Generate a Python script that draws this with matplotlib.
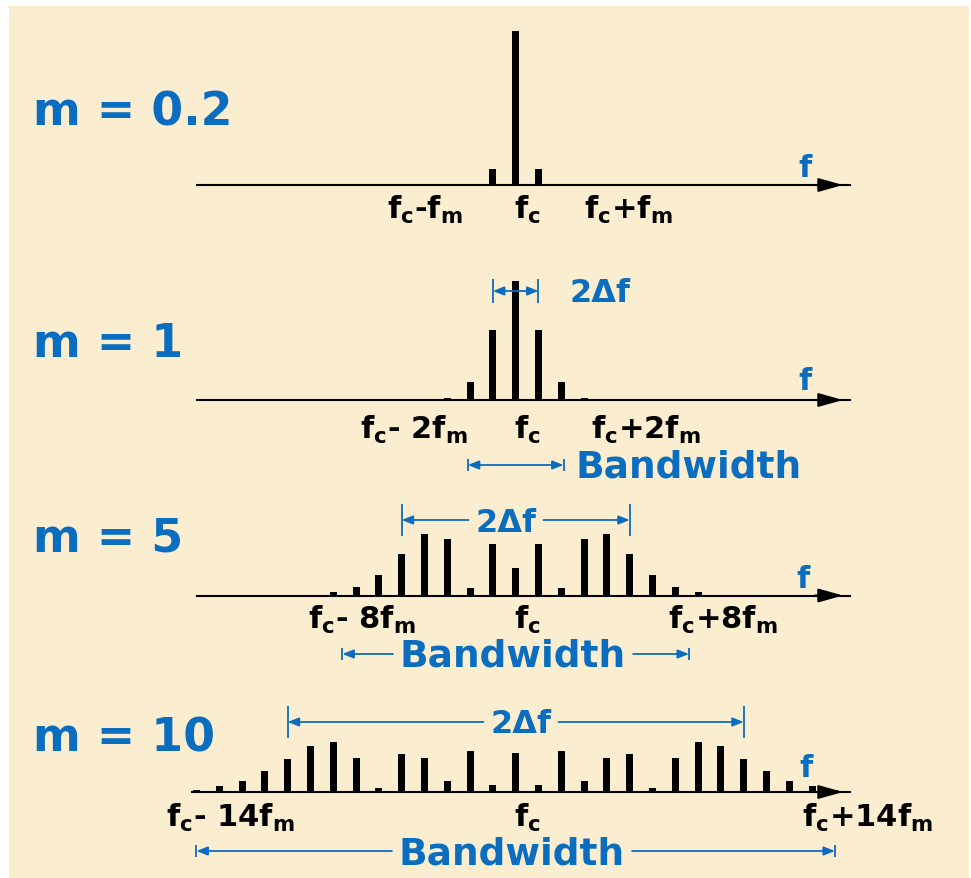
import numpy as np
import matplotlib
matplotlib.use("Agg")
import matplotlib.pyplot as plt
from matplotlib.patches import Rectangle

W, H = 971, 879
CREAM = "#FBEED0"
BLUE = "#0B6DC0"

# modulation index per panel
mod_index = ["0.2", "1", "5", "10"]

# spectral line magnitudes (carrier = 1), sideband -n .. +n
amp_m02 = [0.10, 0.99, 0.10]
amp_m1 = [0.015, 0.115, 0.447, 0.763, 0.447, 0.115, 0.015]
amp_m5 = [0.021, 0.056, 0.133, 0.263, 0.397, 0.363, 0.045, 0.331, 0.178,
          0.331, 0.045, 0.363, 0.397, 0.263, 0.133, 0.056, 0.021]
amp_m10 = [0.015, 0.037, 0.069, 0.133, 0.21, 0.295, 0.32, 0.22, 0.028, 0.242,
           0.22, 0.069, 0.263, 0.043, 0.252, 0.043, 0.263, 0.069, 0.22, 0.242,
           0.028, 0.22, 0.32, 0.295, 0.21, 0.133, 0.069, 0.037, 0.015]
spectra = [amp_m02, amp_m1, amp_m5, amp_m10]

# half-spans (in units of fm) of the 2Δf and bandwidth markers
dev_half = [None, 1, 5, 10]
bw_half = [None, 2.1, 7.6, 14.0]

# frequency labels under each axis
freq_labels = [
    [r"$\mathbf{f_c}$-$\mathbf{f_m}$", r"$\mathbf{f_c}$", r"$\mathbf{f_c}$+$\mathbf{f_m}$"],
    [r"$\mathbf{f_c}$- $\mathbf{2f_m}$", r"$\mathbf{f_c}$", r"$\mathbf{f_c}$+$\mathbf{2f_m}$"],
    [r"$\mathbf{f_c}$- $\mathbf{8f_m}$", r"$\mathbf{f_c}$", r"$\mathbf{f_c}$+$\mathbf{8f_m}$"],
    [r"$\mathbf{f_c}$- $\mathbf{14f_m}$", r"$\mathbf{f_c}$", r"$\mathbf{f_c}$+$\mathbf{14f_m}$"],
]

# layout (pixels)
X0, DX, S = 515.7, 22.8, 156.0
baselines = [186, 401, 596.5, 793]
label_x = [[425, 527, 628], [414, 527, 646], [362, 527, 723], [230, 527, 868]]
label_y = [219, 439, 629, 827]
title_y = [126, 357, 552, 752]
f_pos = [(805, 177), (805, 390), (803, 588), (806, 777)]
axis_start = [197, 197, 197, 192]

ARROW = dict(arrowstyle="-|>,head_length=0.55,head_width=0.22", mutation_scale=12,
             color=BLUE, lw=1.3, shrinkA=0, shrinkB=0)
ARROW2 = dict(ARROW, arrowstyle="<|-|>,head_length=0.55,head_width=0.22")

fig = plt.figure(figsize=(W / 100, H / 100), dpi=100)
fig.patch.set_facecolor("white")
fig.patches.append(Rectangle((9 / W, 0), (969 - 9) / W, 1 - 7 / H,
                             transform=fig.transFigure, facecolor=CREAM,
                             edgecolor="none", zorder=-10))


def fx(x):
    return x / W


def fy(y):
    return 1 - y / H


def panel(base, below=95, above=180):
    ax = fig.add_axes([0, 1 - (base + below) / H, 1, (below + above) / H])
    ax.set_xlim(-X0 / DX, (W - X0) / DX)
    ax.set_ylim(-below / S, above / S)
    ax.axis("off")
    return ax


def kx(px):
    return (px - X0) / DX


def text_span(ax, t, pad=7):
    bb = t.get_window_extent(fig.canvas.get_renderer())
    inv = ax.transData.inverted()
    return inv.transform((bb.x0 - pad, 0))[0], inv.transform((bb.x1 + pad, 0))[0]


def bracket(ax, half, y, tick, text=None):
    ax.vlines([-half, half], y - tick, y + tick, color=BLUE, lw=1.3)
    if text is None:
        ax.annotate("", xy=(half, y), xytext=(-half, y), arrowprops=ARROW2)
    else:
        xl, xr = text_span(ax, text)
        ax.annotate("", xy=(-half, y), xytext=(xl, y), arrowprops=ARROW)
        ax.annotate("", xy=(half, y), xytext=(xr, y), arrowprops=ARROW)


for i, amps in enumerate(spectra):
    base = baselines[i]
    ax = panel(base)
    n = len(amps) // 2
    k = np.arange(-n, n + 1)
    ax.bar(k, amps, width=0.31, color="black", zorder=2)

    # frequency axis with arrow head
    ax.plot([kx(axis_start[i]), kx(850)], [0, 0], color="black", lw=1.5, zorder=3)
    ax.annotate("", xy=(kx(843), 0), xytext=(kx(815), 0),
                arrowprops=dict(arrowstyle="-|>,head_length=1.0,head_width=0.28",
                                mutation_scale=15, color="black", lw=1.5,
                                shrinkA=0, shrinkB=0), zorder=4)

    fig.text(fx(33), fy(title_y[i]), "m = " + mod_index[i], ha="left", va="baseline",
             color=BLUE, fontsize=33, fontweight="bold")
    fig.text(fx(f_pos[i][0]), fy(f_pos[i][1]), "f", ha="center", va="baseline",
             color=BLUE, fontsize=22, fontweight="bold")
    for lab, lx in zip(freq_labels[i], label_x[i]):
        fig.text(fx(lx), fy(label_y[i]), lab, ha="center", va="baseline",
                 color="black", fontsize=22, fontweight="bold")

    def ay(py):
        return (base - py) / S

    if i == 1:
        fig.text(fx(570), fy(302), "2Δf", ha="left", va="baseline",
                 color=BLUE, fontsize=23, fontweight="bold")
        bracket(ax, dev_half[i], ay(292), 12 / S)
        fig.text(fx(575), fy(478), "Bandwidth", ha="left", va="baseline",
                 color=BLUE, fontsize=27, fontweight="bold")
        bracket(ax, bw_half[i], ay(466), 6 / S)
    elif i >= 2:
        dev_y = {2: (521, 532, 506), 3: (723, 733, 521)}[i]
        bw_y = {2: (655, 667, 513), 3: (852, 865, 512)}[i]
        t = fig.text(fx(dev_y[2]), fy(dev_y[1]), "2Δf", ha="center", va="baseline",
                     color=BLUE, fontsize=23, fontweight="bold")
        bracket(ax, dev_half[i], ay(dev_y[0]), 16 / S, t)
        t = fig.text(fx(bw_y[2]), fy(bw_y[1]), "Bandwidth", ha="center", va="baseline",
                     color=BLUE, fontsize=27, fontweight="bold")
        bracket(ax, bw_half[i], ay(bw_y[0]), 6 / S, t)

fig.savefig("out.png", dpi=100, facecolor=fig.get_facecolor())
